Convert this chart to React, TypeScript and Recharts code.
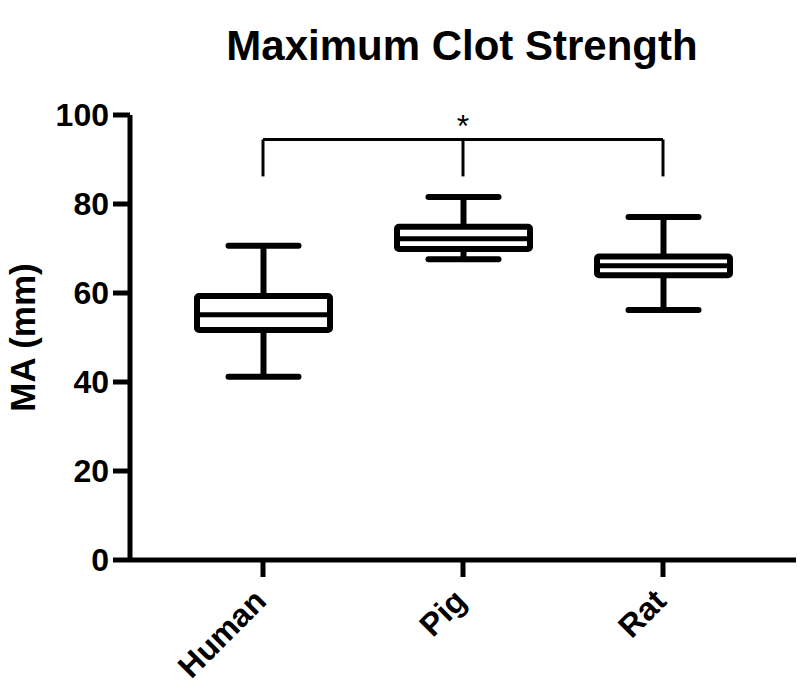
import React from "react";
import {
  ComposedChart,
  Bar,
  XAxis,
  YAxis,
  ReferenceLine,
} from "recharts";

// values
const categories = ["Human", "Pig", "Rat"];
const whiskerLow = [41.2, 67.6, 56.2];
const q1 = [51.7, 69.9, 64.0];
const median = [55.1, 72.2, 66.1];
const q3 = [59.3, 74.9, 68.2];
const whiskerHigh = [70.6, 81.6, 77.1];
const yTicks = [0, 20, 40, 60, 80, 100];

// significance bracket (Human vs Rat, with Pig drop)
const bracketTop = 94.5;
const bracketBottom = 86.2;

const FONT = "'Liberation Sans', Arial, Helvetica, sans-serif";

const data = categories.map((name, i) => ({
  name,
  range: [whiskerLow[i], whiskerHigh[i]],
  low: whiskerLow[i],
  q1: q1[i],
  median: median[i],
  q3: q3[i],
  high: whiskerHigh[i],
}));

const BoxShape = (props: any) => {
  const { x, y, width, height, payload } = props;
  const { low, high } = payload;
  // linear map inside the bar's pixel span (high at top, low at bottom)
  const py = (v: number) => y + ((high - v) / (high - low)) * height;
  const cx = x + width / 2;
  const cap = 35;
  return (
    <g>
      <line x1={cx} x2={cx} y1={py(high)} y2={py(payload.q3)} stroke="#000" strokeWidth={6} />
      <line x1={cx} x2={cx} y1={py(payload.q1)} y2={py(low)} stroke="#000" strokeWidth={6} />
      <line x1={cx - cap} x2={cx + cap} y1={py(high)} y2={py(high)} stroke="#000" strokeWidth={6} strokeLinecap="round" />
      <line x1={cx - cap} x2={cx + cap} y1={py(low)} y2={py(low)} stroke="#000" strokeWidth={6} strokeLinecap="round" />
      <rect
        x={x}
        y={py(payload.q3)}
        width={width}
        height={py(payload.q1) - py(payload.q3)}
        fill="#fff"
        stroke="#000"
        strokeWidth={6}
        rx={2}
      />
      <line
        x1={x}
        x2={x + width}
        y1={py(payload.median)}
        y2={py(payload.median)}
        stroke="#000"
        strokeWidth={5}
      />
    </g>
  );
};

const CategoryTick = (props: any) => {
  const { x, y, payload } = props;
  return (
    <g transform={`translate(${x + 5},${y + 24})`}>
      <text
        x={0}
        y={0}
        textAnchor="end"
        transform="rotate(-45)"
        fontSize={32}
        fontWeight="bold"
        fontFamily={FONT}
        fill="#000"
      >
        {payload.value}
      </text>
    </g>
  );
};

export default function App() {
  return (
    <div style={{ position: "absolute", left: 0, top: 0, background: "#fff" }}>
      <ComposedChart
        width={800}
        height={692}
        data={data}
        margin={{ top: 115, right: 4, bottom: 22, left: 10 }}
        style={{ fontFamily: FONT }}
      >
        <text
          x={462}
          y={60}
          textAnchor="middle"
          fontSize={42}
          fontWeight="bold"
          fontFamily={FONT}
          fill="#000"
        >
          Maximum Clot Strength
        </text>
        <XAxis
          dataKey="name"
          height={110}
          interval={0}
          padding={{ left: 33, right: 33 }}
          axisLine={{ stroke: "#000", strokeWidth: 5 }}
          tickLine={{ stroke: "#000", strokeWidth: 5 }}
          tickSize={17}
          tick={<CategoryTick />}
        />
        <YAxis
          width={120}
          domain={[0, 100]}
          ticks={yTicks}
          interval={0}
          axisLine={{ stroke: "#000", strokeWidth: 5 }}
          tickLine={{ stroke: "#000", strokeWidth: 5 }}
          tickSize={17}
          tickMargin={4}
          tick={{ fill: "#000", fontSize: 32, fontWeight: "bold", fontFamily: FONT }}
          label={{
            value: "MA (mm)",
            angle: -90,
            position: "insideLeft",
            offset: 13,
            fill: "#000",
            fontSize: 35,
            fontWeight: "bold",
            fontFamily: FONT,
            style: { textAnchor: "middle" },
          }}
        />
        <Bar
          dataKey="range"
          barSize={133}
          shape={<BoxShape />}
          isAnimationActive={false}
        />
        <ReferenceLine
          segment={[
            { x: "Human", y: bracketTop },
            { x: "Rat", y: bracketTop },
          ]}
          stroke="#000"
          strokeWidth={3}
          label={{ value: "*", position: "top", offset: 2, fontSize: 32, fill: "#000", fontFamily: FONT }}
        />
        {categories.map((c) => (
          <ReferenceLine
            key={c}
            segment={[
              { x: c, y: bracketTop },
              { x: c, y: bracketBottom },
            ]}
            stroke="#000"
            strokeWidth={3}
          />
        ))}
      </ComposedChart>
    </div>
  );
}
